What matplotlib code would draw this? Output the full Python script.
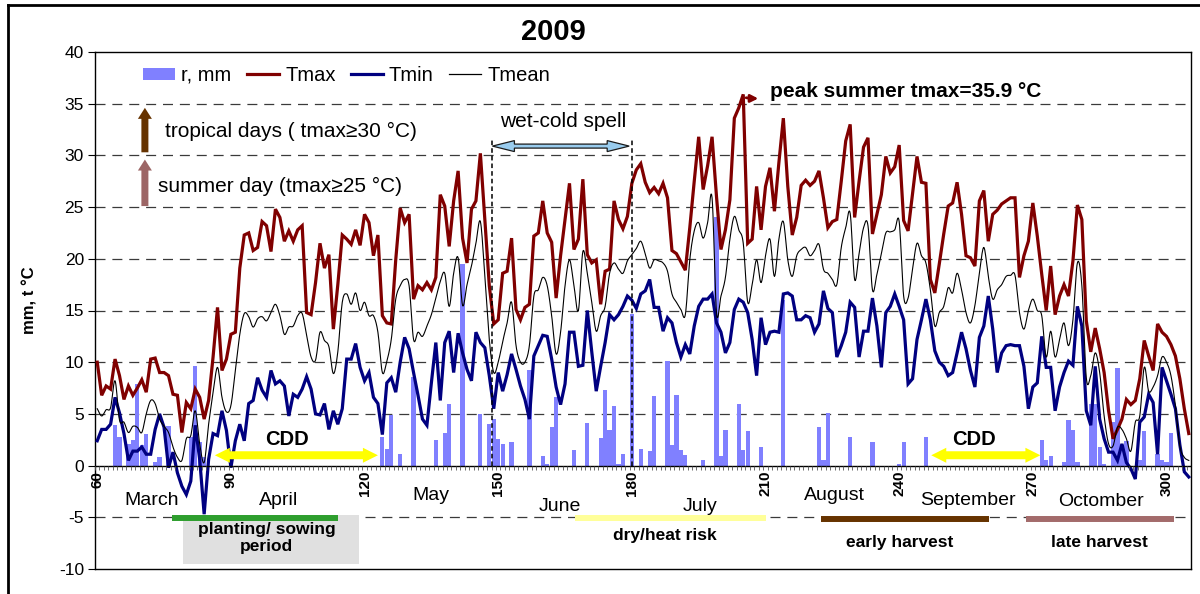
import numpy as np
import matplotlib
matplotlib.use("Agg")
import matplotlib.pyplot as plt
from matplotlib.patches import Polygon, Rectangle, Patch, FancyArrowPatch
from matplotlib.lines import Line2D

plt.rcParams['font.family'] = ['Liberation Sans', 'DejaVu Sans']
plt.rcParams['axes.unicode_minus'] = False

# daily series, day-of-year 60 .. 305
FIRST_DAY = 60
tmax = [
    10.0, 6.8, 7.7, 7.4, 10.3, 8.7, 6.4, 7.7, 6.8, 7.5,
    8.3, 7.1, 10.3, 10.4, 9.0, 9.0, 8.7, 6.9, 6.8, 3.2,
    6.1, 5.5, 7.4, 6.6, 4.5, 6.3, 10.5, 15.3, 9.2, 10.3,
    12.7, 12.9, 19.1, 22.3, 22.5, 20.8, 21.1, 23.6, 23.2, 20.7,
    24.8, 24.0, 21.7, 22.7, 21.7, 22.8, 23.2, 14.8, 14.6, 17.7,
    21.5, 19.1, 20.4, 13.2, 17.5, 22.3, 21.9, 21.4, 22.8, 21.3,
    24.3, 23.5, 20.3, 22.3, 14.5, 13.8, 13.7, 19.9, 24.9, 23.5,
    24.3, 16.1, 17.4, 17.0, 17.7, 17.0, 18.2, 26.2, 25.1, 21.2,
    25.6, 28.5, 22.0, 19.6, 24.8, 25.6, 30.2, 23.8, 17.4, 13.7,
    14.1, 18.6, 18.8, 22.0, 15.1, 14.1, 15.3, 15.6, 22.2, 22.5,
    25.6, 22.5, 21.6, 16.2, 20.3, 23.8, 27.3, 20.9, 21.9, 27.7,
    20.4, 19.6, 19.9, 15.6, 18.8, 19.0, 25.6, 23.8, 22.9, 24.1,
    27.3, 28.6, 29.2, 27.4, 26.4, 26.9, 26.3, 27.3, 25.9, 20.8,
    20.5, 19.7, 18.9, 23.0, 27.5, 31.8, 26.7, 29.0, 31.8, 26.0,
    20.9, 22.8, 25.7, 33.6, 34.6, 35.9, 21.5, 21.9, 27.0, 22.8,
    27.0, 28.8, 24.6, 29.3, 33.6, 27.0, 22.3, 24.0, 27.1, 27.6,
    27.1, 27.5, 28.5, 25.9, 23.0, 23.6, 23.8, 27.5, 31.4, 33.0,
    24.0, 27.5, 30.8, 31.7, 22.4, 24.3, 26.2, 29.9, 28.3, 28.9,
    31.0, 23.7, 22.7, 26.3, 29.9, 27.4, 27.3, 18.0, 16.7, 19.5,
    22.4, 25.1, 25.4, 27.4, 24.3, 20.3, 20.1, 19.3, 25.6, 26.6,
    21.7, 24.3, 24.7, 25.3, 25.6, 25.9, 25.9, 18.2, 20.3, 21.7,
    25.4, 22.2, 18.5, 15.0, 19.3, 14.6, 16.4, 17.5, 16.4, 19.8,
    25.2, 23.8, 14.0, 11.0, 13.3, 11.3, 9.0, 5.3, 2.6, 3.5,
    4.5, 6.4, 5.9, 6.3, 8.4, 12.1, 10.6, 9.2, 13.7, 12.9,
    12.5, 11.7, 10.6, 8.4, 5.5, 3.1,
]
tmin = [
    2.4, 3.5, 3.5, 4.0, 6.6, 5.1, 3.1, 0.5, 1.4, 1.4,
    1.8, 1.1, 1.1, 3.5, 5.0, 3.7, -0.2, 1.3, -0.7, -2.0,
    -2.8, -1.5, 3.9, 0.6, -4.7, 0.6, 3.1, 2.9, 5.3, 3.4,
    -0.2, 2.4, 4.0, 2.4, 6.0, 6.3, 8.5, 7.3, 6.6, 9.2,
    7.9, 8.2, 7.7, 4.8, 6.9, 6.6, 7.4, 8.6, 7.4, 5.0,
    4.9, 6.0, 3.5, 5.3, 4.0, 5.5, 10.3, 10.3, 11.8, 9.5,
    8.2, 9.0, 6.6, 6.0, 3.0, 8.0, 8.5, 7.1, 10.0, 12.4,
    11.3, 9.0, 6.8, 4.5, 3.9, 8.0, 11.9, 6.3, 11.9, 13.0,
    9.0, 12.8, 10.9, 9.3, 8.2, 12.9, 11.9, 11.4, 8.7, 5.5,
    9.0, 7.2, 8.8, 10.8, 9.3, 7.7, 6.4, 4.5, 10.6, 11.6,
    12.6, 12.5, 10.3, 7.6, 5.9, 7.9, 12.9, 12.9, 9.6, 9.7,
    15.0, 11.0, 7.2, 9.6, 11.9, 14.6, 14.1, 14.6, 15.4, 16.4,
    16.0, 15.2, 16.6, 16.9, 18.0, 15.3, 15.3, 13.0, 14.3, 13.8,
    11.9, 10.5, 11.7, 10.8, 13.5, 15.4, 16.1, 16.1, 16.6, 13.8,
    12.9, 10.9, 11.9, 15.1, 16.1, 15.8, 14.8, 12.2, 8.7, 14.3,
    11.7, 12.9, 13.0, 12.9, 16.6, 16.7, 16.4, 14.1, 14.1, 14.5,
    14.3, 12.9, 13.7, 16.9, 15.2, 14.8, 10.5, 11.6, 12.9, 15.8,
    15.3, 10.5, 13.0, 13.0, 16.2, 13.5, 9.5, 14.8, 15.4, 16.6,
    15.4, 14.1, 7.9, 8.4, 12.2, 14.1, 16.1, 14.1, 11.1, 10.0,
    9.6, 8.7, 9.0, 10.9, 12.9, 11.3, 9.2, 7.6, 12.4, 13.5,
    16.4, 13.2, 9.0, 10.9, 11.6, 11.7, 11.6, 11.6, 9.6, 5.5,
    7.6, 8.0, 12.5, 9.5, 9.5, 5.3, 7.6, 9.0, 10.1, 9.7,
    15.4, 13.5, 5.3, 3.9, 9.6, 4.5, 2.6, 1.3, 1.3, 0.5,
    2.1, 0.3, -0.3, -1.3, 4.2, 4.7, 6.9, 6.1, 1.1, 9.5,
    8.2, 6.9, 5.5, 2.0, -0.6, -1.1,
]
tmean = [
    5.5, 4.8, 5.4, 5.6, 8.2, 4.4, 4.2, 3.2, 3.8, 3.7,
    3.2, 5.0, 6.3, 6.0, 4.5, 3.8, 3.2, 1.8, 0.8, 0.5,
    2.6, 2.9, 5.3, 2.1, 0.3, 4.0, 7.0, 9.5, 6.6, 5.2,
    5.8, 9.2, 12.7, 14.7, 14.4, 13.4, 14.2, 14.4, 14.0, 14.8,
    15.6, 14.5, 12.7, 13.4, 13.5, 14.5, 14.7, 12.6, 10.5, 10.2,
    12.9, 12.1, 11.5, 8.9, 11.0, 15.8, 16.6, 15.6, 16.7, 15.0,
    15.8, 14.5, 14.5, 12.9, 9.0, 10.1, 12.2, 16.1, 17.4, 18.0,
    17.4, 12.2, 12.9, 12.5, 13.5, 14.6, 16.2, 17.8, 18.6, 15.4,
    18.6, 20.1, 15.5, 17.5, 19.3, 21.5, 23.6, 18.3, 12.2, 9.0,
    10.0, 12.0, 13.8, 15.8, 11.6, 10.0, 10.0, 11.6, 16.4, 17.0,
    18.2, 17.4, 14.5, 10.8, 12.9, 17.4, 19.9, 17.4, 15.0, 20.7,
    18.6, 15.8, 13.0, 14.5, 15.4, 18.6, 19.6, 19.0, 18.6, 19.8,
    20.4, 21.0, 21.7, 20.5, 19.1, 19.9, 19.8, 19.6, 18.8, 16.6,
    15.8, 15.1, 14.6, 19.9, 22.7, 23.5, 22.0, 23.5, 25.9, 14.8,
    16.4, 18.2, 21.9, 24.1, 22.8, 21.5, 15.8, 17.5, 19.9, 17.7,
    20.3, 21.9, 18.3, 21.9, 23.6, 19.9, 18.3, 20.3, 20.9, 21.1,
    20.3, 20.8, 21.4, 19.0, 18.6, 18.0, 17.5, 21.1, 23.0, 24.4,
    18.0, 20.5, 23.0, 23.2, 17.0, 18.5, 20.5, 22.5, 22.6, 22.8,
    23.6, 16.4, 16.2, 19.0, 21.5, 20.3, 19.6, 17.0, 13.5, 14.8,
    15.4, 17.2, 16.7, 18.6, 17.0, 14.8, 13.8, 15.5, 18.6, 21.1,
    18.3, 16.1, 17.0, 17.5, 18.3, 18.4, 18.4, 14.8, 13.2, 15.0,
    16.1, 15.0, 14.5, 10.5, 13.0, 10.5, 12.2, 13.8, 11.6, 14.1,
    19.6, 17.4, 8.5, 8.7, 10.9, 9.0, 4.8, 2.1, 1.9, 3.7,
    3.5, 2.6, 1.4, 4.2, 4.8, 9.5, 7.2, 7.6, 8.7, 10.5,
    10.0, 8.7, 5.8, 1.9, 0.8, 0.5,
]
rain_day = [64, 65, 67, 68, 69, 70, 71, 73, 74, 76, 81, 82, 83, 84,
            124, 125, 126, 128, 131, 136, 138, 139, 142, 146,
            148, 149, 150, 151, 153, 157, 160, 161, 162, 163,
            167, 170, 173, 174, 175, 176, 177, 178, 180, 182,
            184, 185, 188, 189, 190, 191, 192, 196, 199, 200,
            201, 204, 205, 206, 209, 214, 222, 223, 224, 229,
            234, 240, 241, 246, 272, 273, 274, 277, 278, 279,
            280, 283, 284, 285, 286, 288, 289, 290, 291, 294,
            295, 298, 299, 300, 301]
rain_mm = [3.9, 2.8, 2.1, 2.5, 7.9, 2.0, 3.1, 0.3, 0.8, 3.8, 2.8, 9.6, 2.3, 0.8,
           2.8, 1.6, 4.9, 1.1, 8.6, 2.5, 3.2, 6.0, 19.5, 5.0,
           4.0, 4.5, 2.6, 2.1, 2.3, 9.2, 0.9, 0.2, 3.7, 6.6,
           1.5, 4.1, 2.7, 7.3, 3.4, 5.8, 0.2, 1.1, 14.7, 1.6,
           1.4, 6.7, 10.1, 2.0, 6.8, 1.5, 1.0, 0.5, 24.0, 0.9,
           3.4, 6.0, 1.5, 3.3, 1.8, 16.0, 3.7, 0.5, 5.1, 2.8,
           2.3, 0.2, 2.3, 2.8, 2.5, 0.5, 0.9, 0.3, 4.4, 3.4,
           0.3, 6.0, 6.0, 1.8, 0.2, 4.2, 9.4, 2.0, 2.4, 0.5,
           3.3, 1.1, 0.5, 0.3, 3.2]
PEAK_TMAX = 35.9

day_ticks = [60, 90, 120, 150, 180, 210, 240, 270, 300]
months = ["March", "April", "May", "June", "July", "August", "September", "Octomber"]
periods = ["planting/ sowing\nperiod", "dry/heat risk", "early harvest", "late harvest"]

assert len(tmax) == len(tmin) == len(tmean)
days = np.arange(FIRST_DAY, FIRST_DAY + len(tmax))


def catmull_rom(x, y, n=10):
    p = np.column_stack([x, y]).astype(float)
    p = np.vstack([2 * p[0] - p[1], p, 2 * p[-1] - p[-2]])
    t = np.linspace(0, 1, n, endpoint=False)[:, None]
    out = []
    for i in range(1, len(p) - 2):
        p0, p1, p2, p3 = p[i - 1], p[i], p[i + 1], p[i + 2]
        out.append(0.5 * (2 * p1 + (p2 - p0) * t
                          + (2 * p0 - 5 * p1 + 4 * p2 - p3) * t ** 2
                          + (3 * p1 - p0 - 3 * p2 + p3) * t ** 3))
    out.append(p[-2][None, :])
    out = np.vstack(out)
    return out[:, 0], out[:, 1]


fig = plt.figure(figsize=(12, 5.94), dpi=100)
ax = fig.add_axes([95 / 1200, 1 - 569 / 594, 1096 / 1200, 517 / 594])
ax.set_xlim(59.5, 305.5)
ax.set_ylim(-10, 40)

# pixel size of one data unit, for the hand drawn arrows
SX = 1096 / (305.5 - 59.5)
SY = 517 / 50.0


def h_double_arrow(x0, x1, y, shaft, head_w, head_l, fc, ec='none', lw=0.0, z=6):
    hl = head_l / SX
    hs = shaft / 2 / SY
    hw = head_w / 2 / SY
    verts = [(x0, y), (x0 + hl, y + hw), (x0 + hl, y + hs), (x1 - hl, y + hs),
             (x1 - hl, y + hw), (x1, y), (x1 - hl, y - hw), (x1 - hl, y - hs),
             (x0 + hl, y - hs), (x0 + hl, y - hw)]
    ax.add_patch(Polygon(verts, closed=True, fc=fc, ec=ec, lw=lw, zorder=z))


def up_arrow(x, y0, y1, fc, shaft=7, head_w=14, head_l=11):
    sw = shaft / 2 / SX
    hw = head_w / 2 / SX
    hl = head_l / SY
    verts = [(x - sw, y0), (x - sw, y1 - hl), (x - hw, y1 - hl), (x, y1),
             (x + hw, y1 - hl), (x + sw, y1 - hl), (x + sw, y0)]
    ax.add_patch(Polygon(verts, closed=True, fc=fc, ec='none', zorder=6))


# horizontal dashed grid
for v in [-5, 5, 10, 15, 20, 25, 30, 35]:
    ax.axhline(v, color='#3a3a3a', lw=0.9, ls=(0, (8, 5.5)), zorder=0.5)

ax.bar(rain_day, rain_mm, width=0.95, color='#8080ff', linewidth=0, zorder=1)
ax.plot(days, tmax, color='#800000', lw=2.3, zorder=3, solid_joinstyle='miter')
ax.plot(days, tmin, color='#000080', lw=2.3, zorder=3.2, solid_joinstyle='miter')
sx, sy = catmull_rom(days, tmean)
ax.plot(sx, sy, color='black', lw=0.8, zorder=3.4)

# zero line with daily tick marks
ax.axhline(0, color='black', lw=1.0, zorder=4)
ax.vlines(np.arange(59.5, 306), -0.45, 0, color='#555555', lw=0.6, zorder=4)
for d in day_ticks:
    ax.text(d, -0.5, str(d), rotation=90, ha='center', va='top',
            fontsize=11, fontweight='bold', zorder=7)

ax.set_xticks([])
ax.set_yticks(np.arange(-10, 41, 5))
ax.tick_params(axis='y', direction='out', length=5, width=0.8, labelsize=12.5, pad=3)
for s in ax.spines.values():
    s.set_linewidth(1.0)

# month names
month_xy = [(72.2, -3.4), (100.6, -3.4), (135.0, -2.9), (163.8, -4.0),
            (195.2, -4.0), (225.5, -2.9), (255.4, -3.4), (285.3, -3.5)]
for name, (mx, my) in zip(months, month_xy):
    ax.text(mx, my, name, ha='center', va='center', fontsize=14, zorder=7)

# crop calendar bands
ax.add_patch(Rectangle((79.2, -9.5), 118.7 - 79.2, 4.7, fc='#e0e0e0', ec='none', zorder=4.5))
ax.plot([76.7, 114.1], [-5.1, -5.1], color='#2e9e2e', lw=4.3, solid_capstyle='butt', zorder=5)
ax.plot([167.2, 210.1], [-5.1, -5.1], color='#ffff99', lw=4.3, solid_capstyle='butt', zorder=5)
ax.plot([222.5, 260.1], [-5.2, -5.2], color='#663300', lw=4.3, solid_capstyle='butt', zorder=5)
ax.plot([268.4, 301.7], [-5.2, -5.2], color='#a36b6b', lw=4.3, solid_capstyle='butt', zorder=5)
period_xy = [(98.0, -7.0), (187.3, -6.8), (240.2, -7.4), (284.9, -7.4)]
for label, (px, py) in zip(periods, period_xy):
    ax.text(px, py, label, ha='center', va='center', fontsize=12.5,
            fontweight='bold', linespacing=1.15, zorder=7)

# consecutive dry days
h_double_arrow(86.4, 123.0, 1.0, 8, 15, 15, '#ffff00')
h_double_arrow(247.2, 271.7, 1.0, 8, 15, 15, '#ffff00')
ax.text(102.5, 2.5, "CDD", ha='center', va='center', fontsize=14.5, fontweight='bold', zorder=7)
ax.text(256.9, 2.5, "CDD", ha='center', va='center', fontsize=14.5, fontweight='bold', zorder=7)

# wet-cold spell
for xv in (148.5, 180.1):
    ax.plot([xv, xv], [0, 31.7], color='black', lw=1.1, ls=(0, (3, 2)), zorder=5)
h_double_arrow(148.7, 179.4, 30.9, 4, 11, 22, '#99ccee', ec='#1a1a1a', lw=0.9)
ax.text(164.5, 33.3, "wet-cold spell", ha='center', va='center', fontsize=15, zorder=7)

# temperature thresholds
up_arrow(70.7, 30.3, 34.6, '#663300')
up_arrow(70.7, 25.1, 29.6, '#9c6666')
ax.text(75.2, 32.3, "tropical days ( tmax\u226530 \u00b0C)", ha='left', va='center',
        fontsize=15, zorder=7)
ax.text(73.6, 27.0, "summer day (tmax\u226525 \u00b0C)", ha='left', va='center',
        fontsize=15, zorder=7)

# summer peak
peak_day = days[int(np.argmax(tmax))]
ax.add_patch(FancyArrowPatch((peak_day + 0.1, PEAK_TMAX - 0.2), (peak_day + 4.0, 35.5),
                             connectionstyle='angle3,angleA=80,angleB=0',
                             arrowstyle='-|>', mutation_scale=11,
                             color='#800000', lw=2.0, zorder=6))
ax.text(210.9, 36.2, "peak summer tmax=%.1f \u00b0C" % PEAK_TMAX, ha='left', va='center',
        fontsize=15, fontweight='bold', zorder=7)

handles = [Patch(facecolor='#8080ff', edgecolor='none'),
           Line2D([], [], color='#800000', lw=2.3),
           Line2D([], [], color='#000080', lw=2.3),
           Line2D([], [], color='black', lw=0.9)]
ax.legend(handles, ["r, mm", "Tmax", "Tmin", "Tmean"], loc='center left',
          bbox_to_anchor=(0.044, 0.955), ncol=4, frameon=False, fontsize=14.5,
          handlelength=1.6, handleheight=0.55, handletextpad=0.3,
          columnspacing=0.75, borderpad=0, borderaxespad=0)

fig.text(553 / 1200, 1 - 32 / 594, "2009", ha='center', va='center',
         fontsize=21, fontweight='bold')
fig.text(30 / 1200, 1 - 300 / 594, "mm, t \u00b0C", ha='center', va='center',
         rotation=90, fontsize=12, fontweight='bold')

# outer chart frame
fig.add_artist(Line2D([8 / 1200, 8 / 1200], [0, 1 - 5 / 594], color='black', lw=2.0))
fig.add_artist(Line2D([8 / 1200, 1], [1 - 5 / 594, 1 - 5 / 594], color='black', lw=2.0))

fig.savefig("out.png", dpi=100, facecolor='white')
